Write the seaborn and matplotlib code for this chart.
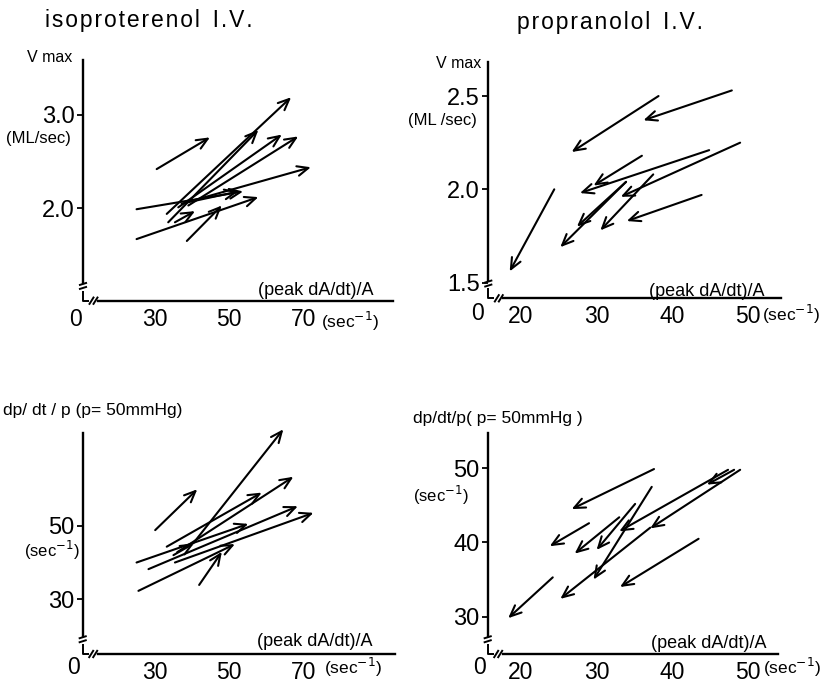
import matplotlib
matplotlib.use("Agg")
import matplotlib.pyplot as plt
import seaborn as sns

# ---- isoproterenol I.V. : Vmax (ML/sec) vs (peak dA/dt)/A, arrows control -> drug
iso_v_x0 = [30.5, 25.1, 25.1, 38.6, 33.2, 33.6, 36.3, 39.0, 40.8, 35.4, 37.2]
iso_v_y0 = [2.42, 1.99, 1.67, 1.65, 1.94, 1.85, 2.01, 2.03, 2.09, 1.85, 2.05]
iso_v_x1 = [44.8, 53.7, 57.8, 48.0, 66.6, 57.8, 64.1, 68.5, 71.9, 40.8, 52.4]
iso_v_y1 = [2.76, 2.18, 2.12, 2.03, 3.19, 2.84, 2.79, 2.77, 2.44, 1.97, 2.18]

# ---- propranolol I.V. : Vmax
pro_v_x0 = [38.2, 47.9, 36.0, 44.9, 49.0, 43.9, 37.5, 33.9, 33.9, 24.4]
pro_v_y0 = [2.50, 2.53, 2.18, 2.21, 2.25, 1.97, 2.08, 2.04, 2.04, 2.00]
pro_v_x1 = [26.7, 36.2, 29.6, 27.8, 33.2, 34.0, 30.5, 27.4, 25.2, 18.5]
pro_v_y1 = [2.20, 2.37, 2.02, 1.98, 1.96, 1.83, 1.78, 1.80, 1.69, 1.56]

# ---- isoproterenol I.V. : dp/dt/p (p = 50 mmHg)
iso_d_x0 = [30.1, 40.3, 33.2, 36.0, 25.1, 28.3, 35.4, 25.6, 41.9, 35.0]
iso_d_y0 = [48.8, 45.2, 44.3, 42.8, 40.0, 38.2, 40.0, 32.3, 33.9, 42.0]
iso_d_x1 = [41.4, 64.5, 58.7, 67.2, 55.1, 68.4, 72.6, 51.5, 48.0, 40.5]
iso_d_y1 = [59.9, 76.2, 59.0, 63.3, 50.5, 55.3, 53.5, 45.0, 42.9, 45.2]

# ---- propranolol I.V. : dp/dt/p (p = 50 mmHg)
pro_d_x0 = [37.6, 29.0, 33.0, 37.3, 35.1, 47.4, 49.0, 48.2, 37.1, 43.5, 24.2]
pro_d_y0 = [49.9, 42.6, 43.4, 47.5, 45.2, 49.8, 49.8, 49.8, 42.0, 40.5, 35.3]
pro_d_x1 = [26.7, 23.8, 27.1, 29.6, 30.0, 33.0, 37.1, 44.6, 25.2, 33.1, 18.3]
pro_d_y1 = [44.5, 39.5, 38.5, 35.0, 39.0, 41.5, 41.9, 47.8, 32.4, 34.0, 29.8]

iso_xticks = [30, 50, 70]
pro_xticks = [20, 30, 40, 50]

sns.set_theme(style="white")
plt.rcParams['font.family'] = ['Liberation Sans', 'DejaVu Sans']
plt.rcParams['axes.unicode_minus'] = False
for key in ("text.color", "axes.labelcolor", "xtick.color", "ytick.color"):
    plt.rcParams[key] = "black"

W, H = 823, 686
fig = plt.figure(figsize=(W / 100, H / 100), dpi=100)


def fx(x):
    return x / W


def fy(y):
    return 1 - y / H


def spaced(s):
    # letter-spaced heading text
    return "\u200a".join(s)


panels = [
    dict(rect=(83, 60, 393, 300.7), xlim=(10.72, 93.95), ylim=(1.010, 3.589),
         ytop=3.589, yticks=[2.0, 3.0], ylabels=["2.0", "3.0"], xticks=iso_xticks,
         arrows=(iso_v_x0, iso_v_y0, iso_v_x1, iso_v_y1)),
    dict(rect=(488.3, 61.7, 781, 298.3), xlim=(15.67, 54.41), ylim=(1.416, 2.684),
         ytop=2.684, yticks=[1.5, 2.0, 2.5], ylabels=["1.5", "2.0", "2.5"], xticks=pro_xticks,
         arrows=(pro_v_x0, pro_v_y0, pro_v_x1, pro_v_y1)),
    dict(rect=(82.7, 428.0, 395, 654), xlim=(10.64, 94.48), ylim=(15.14, 76.55),
         ytop=75.27, yticks=[30, 50], ylabels=["30", "50"], xticks=iso_xticks,
         arrows=(iso_d_x0, iso_d_y0, iso_d_x1, iso_d_y1)),
    dict(rect=(487.7, 432.7, 777.7, 654), xlim=(15.59, 53.97), ylim=(24.97, 54.80),
         ytop=54.80, yticks=[30, 40, 50], ylabels=["30", "40", "50"], xticks=pro_xticks,
         arrows=(pro_d_x0, pro_d_y0, pro_d_x1, pro_d_y1)),
]

for p in panels:
    l, t, r, b = p["rect"]
    ax = fig.add_axes([fx(l), fy(b), (r - l) / W, (b - t) / H])
    ax.set_facecolor("none")
    ax.set_xlim(*p["xlim"])
    ax.set_ylim(*p["ylim"])
    wpx, hpx = r - l, b - t
    dx = (p["xlim"][1] - p["xlim"][0]) / wpx
    dy = (p["ylim"][1] - p["ylim"][0]) / hpx

    sns.despine(ax=ax)
    for s in ("left", "bottom"):
        ax.spines[s].set_linewidth(1.7)
        ax.spines[s].set_color("black")
    # broken axes near the origin
    ax.spines["left"].set_bounds(p["ylim"][0] + 18 * dy, p["ytop"])
    ax.spines["bottom"].set_bounds(p["xlim"][0] + 15 * dx, p["xlim"][1])

    def pxl(x, y):
        return x / wpx, y / hpx

    brk = dict(transform=ax.transAxes, color="black", lw=1.4, clip_on=False,
               solid_capstyle="butt")
    for seg in ([(-4, 15.5), (4, 18)], [(-4, 11.5), (4, 14)],
                [(0, 10), (0, 0), (6, 0)],
                [(6, -4), (11, 4)], [(10, -4), (15, 4)]):
        xs, ys = zip(*[pxl(*pt) for pt in seg])
        ax.plot(xs, ys, **brk)

    ax.set_yticks(p["yticks"])
    ax.set_yticklabels(p["ylabels"])
    ax.set_xticks(p["xticks"])
    ax.set_xticklabels([str(v) for v in p["xticks"]])
    ax.tick_params(axis="y", length=4, width=1.3, direction="out", pad=2,
                   labelsize=17, colors="black", left=True)
    ax.tick_params(axis="x", length=0, pad=5, labelsize=16.5, colors="black")
    ax.grid(False)

    x0, y0, x1, y1 = p["arrows"]
    for a, b_, c, d in zip(x0, y0, x1, y1):
        ax.annotate("", xy=(c, d), xytext=(a, b_),
                    arrowprops=dict(arrowstyle="->,head_length=0.8,head_width=0.35",
                                    lw=1.5, color="black", shrinkA=0, shrinkB=0,
                                    mutation_scale=10),
                    annotation_clip=False)

# panel titles
fig.text(fx(149), fy(21), spaced("isoproterenol") + "  " + spaced("I.V."),
         ha="center", va="center", fontsize=16.5)
fig.text(fx(610), fy(22), spaced("propranolol") + "  " + spaced("I.V."),
         ha="center", va="center", fontsize=16.5)

# axis captions
txt = dict(ha="left", va="center", color="black")
fig.text(fx(27), fy(58), "V max", fontsize=11.5, **txt)
fig.text(fx(6), fy(139), "(ML/sec)", fontsize=12, **txt)
fig.text(fx(436), fy(63), "V max", fontsize=11.5, **txt)
fig.text(fx(408), fy(121), "(ML /sec)", fontsize=12, **txt)
fig.text(fx(3), fy(411), "dp/ dt / p (p= 50mmHg)", fontsize=12.5, **txt)
fig.text(fx(24), fy(550), "(sec$^{-1}$)", fontsize=12, **txt)
fig.text(fx(413), fy(418), "dp/dt/p( p= 50mmHg )", fontsize=12.5, **txt)
fig.text(fx(413), fy(495), "(sec$^{-1}$)", fontsize=12, **txt)

for xl, yl in ((258, 290), (649, 292), (257, 642), (651, 643)):
    fig.text(fx(xl), fy(yl), "(peak dA/dt)/A", fontsize=13, **txt)
for xl, yl in ((321, 321), (762, 314), (324, 667), (763, 667)):
    fig.text(fx(xl), fy(yl), "(sec$^{-1}$)", fontsize=12.5, **txt)
# origin labels beneath the axis breaks
for xl, yl in ((75, 320), (477, 314), (74, 667), (479, 667)):
    fig.text(fx(xl), fy(yl), "0", fontsize=16.5, ha="center", va="center")

fig.savefig("out.png", dpi=100)
